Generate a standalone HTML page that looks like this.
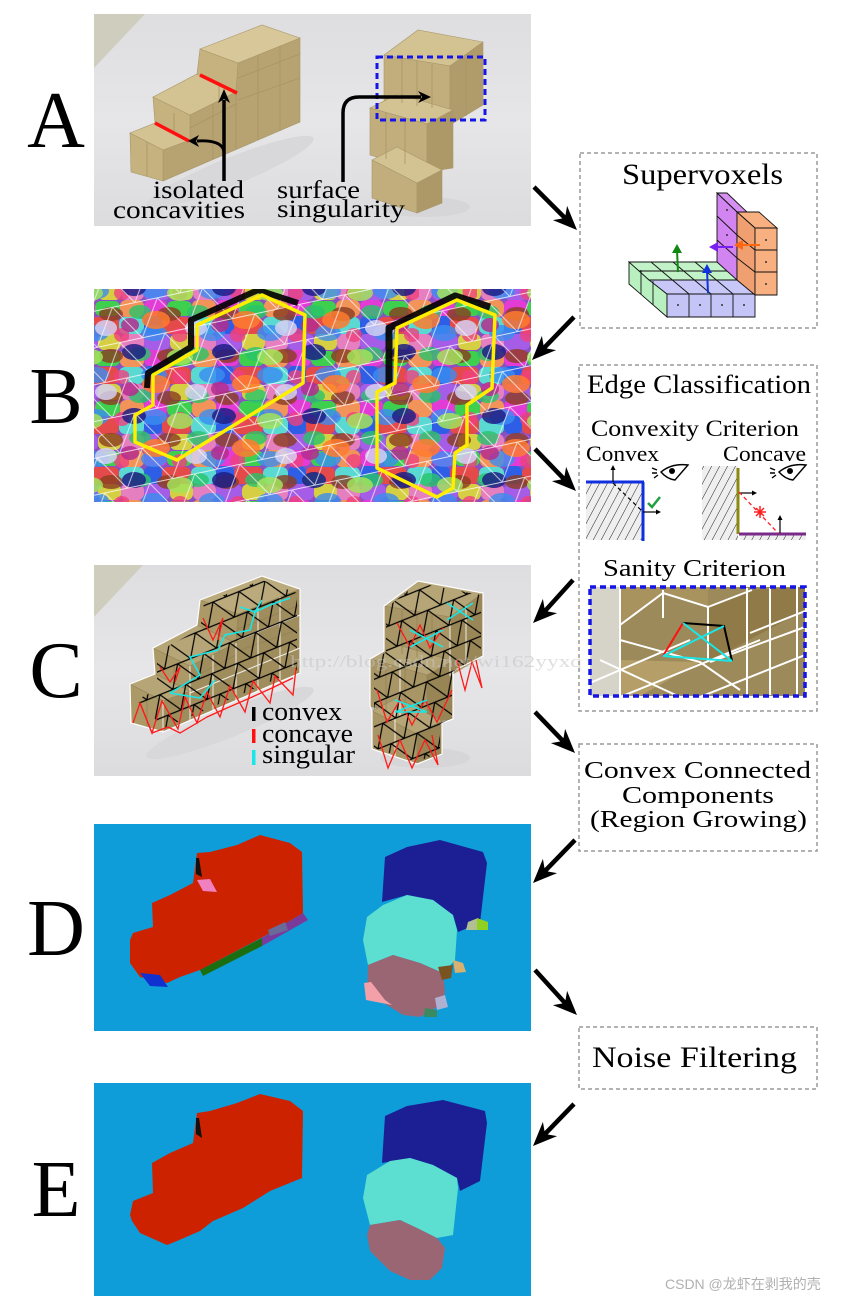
<!DOCTYPE html>
<html><head><meta charset="utf-8"><style>html,body{margin:0;padding:0;background:#fff;}svg{display:block}</style></head>
<body>
<svg width="851" height="1300" viewBox="0 0 851 1300" xmlns="http://www.w3.org/2000/svg" font-family="'Liberation Serif', serif">
<defs>
  <clipPath id="cA"><rect x="94" y="14" width="437" height="212"/></clipPath>
  <clipPath id="cB"><rect x="94" y="289" width="437" height="213"/></clipPath>
  <clipPath id="cC"><rect x="94" y="565" width="437" height="211"/></clipPath>
  <clipPath id="cSan"><rect x="590" y="587" width="215" height="109"/></clipPath>
  <clipPath id="cMeshL"><polygon points="136,700 157,690 157,652 200,629 204,603 262,580 297,593 297,670 164,728"/></clipPath>
  <clipPath id="cMeshR"><polygon points="386,608 418,583 481,595 481,655 452,672 452,718 440,724 440,752 417,762 374,748 374,660 386,652"/></clipPath>
  <pattern id="hatch" width="7" height="7" patternUnits="userSpaceOnUse" patternTransform="rotate(28)">
    <rect width="7" height="7" fill="#efefef"/>
    <line x1="0" y1="0" x2="0" y2="7" stroke="#222" stroke-width="1"/>
  </pattern>
  <pattern id="m1" width="72" height="50" patternUnits="userSpaceOnUse">
    <rect width="72" height="50" fill="#8a4fc0"/>
    <rect x="0" y="0" width="23" height="16" rx="6" fill="#e23bd6"/>
    <rect x="23" y="1" width="25" height="15" rx="6" fill="#3fcf4f"/>
    <rect x="48" y="0" width="24" height="17" rx="6" fill="#f2935a"/>
    <rect x="0" y="16" width="18" height="18" rx="6" fill="#2f5ee6"/>
    <rect x="18" y="17" width="29" height="17" rx="6" fill="#e54a4a"/>
    <rect x="47" y="17" width="25" height="17" rx="6" fill="#5ad9d2"/>
    <rect x="0" y="34" width="26" height="16" rx="6" fill="#a55ce6"/>
    <rect x="26" y="34" width="23" height="16" rx="6" fill="#d6cf44"/>
    <rect x="49" y="34" width="23" height="16" rx="6" fill="#e57fbf"/>
  </pattern>
  <pattern id="m2" x="13" y="9" width="58" height="42" patternUnits="userSpaceOnUse">
    <ellipse cx="11" cy="9" rx="11" ry="7" fill="#27c46a"/>
    <ellipse cx="40" cy="11" rx="12" ry="7" fill="#8a3d20"/>
    <ellipse cx="25" cy="30" rx="13" ry="8" fill="#3a8df0"/>
    <ellipse cx="51" cy="32" rx="8" ry="7" fill="#f0407e"/>
  </pattern>
  <pattern id="m3" x="30" y="20" width="90" height="64" patternUnits="userSpaceOnUse">
    <ellipse cx="14" cy="12" rx="12" ry="8" fill="#1e1e86"/>
    <ellipse cx="60" cy="17" rx="13" ry="8" fill="#a2e35a"/>
    <ellipse cx="36" cy="44" rx="14" ry="9" fill="#ff7b2e"/>
    <ellipse cx="76" cy="52" rx="11" ry="8" fill="#d4d0f2"/>
    <ellipse cx="10" cy="49" rx="9" ry="7" fill="#b52d8e"/>
  </pattern>
  <pattern id="wmesh" width="46" height="36" patternUnits="userSpaceOnUse" patternTransform="rotate(-12)">
    <path d="M0 0H46M0 0L23 36L46 0M0 36H46" stroke="#fff" stroke-width="0.9" fill="none" opacity="0.75"/>
  </pattern>
  <pattern id="bmesh" width="28" height="22" patternUnits="userSpaceOnUse" patternTransform="rotate(-22)">
    <path d="M0 0H28M0 0L14 22L28 0M0 22H28" stroke="#000" stroke-width="1.2" fill="none"/>
  </pattern>
  <linearGradient id="photo" x1="0" y1="0" x2="0" y2="1">
    <stop offset="0" stop-color="#dedee0"/>
    <stop offset="0.5" stop-color="#e6e6e8"/>
    <stop offset="1" stop-color="#dcdcde"/>
  </linearGradient>
  <g id="blocks" stroke="#a8976a" stroke-width="0.6">
    <ellipse cx="230" cy="172" rx="90" ry="14" fill="#d8d8da" stroke="none" transform="rotate(-22 230 172)"/>
    <ellipse cx="425" cy="207" rx="45" ry="10" fill="#d6d6d8" stroke="none"/>
    <polygon fill="#b7a371" points="163,150 190,140 190,115 236,92 238,63 300,38 300,122 163,181"/>
    <polygon fill="#c6b27f" points="130,133 163,150 163,181 131,172"/>
    <polygon fill="#d3c292" points="130,133 155,123 190,140 163,150"/>
    <polygon fill="#c6b27f" points="153,97 190,115 190,140 155,123"/>
    <polygon fill="#d3c292" points="153,97 197,74 236,92 190,115"/>
    <polygon fill="#c6b27f" points="200,49 238,63 236,92 197,74"/>
    <polygon fill="#d8c798" points="200,49 262,25 300,38 238,63"/>
    <polygon fill="#d3c292" points="384,55 418,30 483,42 450,66"/>
    <polygon fill="#c2ae7c" points="384,55 450,66 450,112 384,100"/>
    <polygon fill="#b09c6a" points="450,66 483,42 483,105 450,125"/>
    <polygon fill="#d3c292" points="370,108 398,94 453,110 427,124"/>
    <polygon fill="#c2ae7c" points="370,108 427,124 427,172 370,155"/>
    <polygon fill="#ad9967" points="427,124 453,110 453,168 427,172"/>
    <polygon fill="#d3c292" points="372,160 397,147 442,170 417,183"/>
    <polygon fill="#c2ae7c" points="372,160 417,183 417,213 372,198"/>
    <polygon fill="#ad9967" points="417,183 442,170 442,203 417,213"/>
    <path fill="none" stroke="#a89466" stroke-width="0.8" d="M213,104V159M236,93V149M258,55V140M280,46V131M190,128L236,104M238,78L300,54M238,100L300,78M147,142V176M174,113V132M219,82V102M466,58V116M402,58V103M417,61V106M432,64V108M386,113V159M405,118V164"/>
  </g>
</defs>

<!-- Panel letters -->
<g font-size="80" text-anchor="middle" fill="#000">
  <text x="56" y="147">A</text>
  <text x="56" y="423">B</text>
  <text x="56" y="697">C</text>
  <text x="56" y="955">D</text>
  <text x="56" y="1216">E</text>
</g>

<!-- Panel A -->
<g clip-path="url(#cA)">
  <rect x="94" y="14" width="437" height="212" fill="url(#photo)"/>
  <polygon points="94,14 145,14 94,68" fill="#cfcdbd"/>
  <use href="#blocks"/>
  <line x1="155" y1="123" x2="189" y2="141" stroke="#ff1010" stroke-width="3.5"/>
  <line x1="200" y1="75" x2="237" y2="93" stroke="#ff1010" stroke-width="3.5"/>
  <rect x="377" y="57" width="108" height="63" fill="none" stroke="#1515e6" stroke-width="3" stroke-dasharray="6 4"/>
  <path d="M224,181 L224,100" stroke="#000" stroke-width="3.5" fill="none"/>
  <polygon points="224,89 218,103 224,99 230,103" fill="#000"/>
  <path d="M224,153 C224,143 212,140 197,141" stroke="#000" stroke-width="3" fill="none"/>
  <polygon points="188,141 199,135 196,141 199,147" fill="#000"/>
  <path d="M343,182 L343,113 Q343,97 359,97 L421,97" stroke="#000" stroke-width="3.5" fill="none"/>
  <polygon points="431,97 418,91 422,97 418,103" fill="#000"/>
  <g font-size="25" fill="#000">
    <text x="153" y="198" textLength="91" lengthAdjust="spacingAndGlyphs">isolated</text>
    <text x="113" y="218" textLength="132" lengthAdjust="spacingAndGlyphs">concavities</text>
    <text x="277" y="198" textLength="83" lengthAdjust="spacingAndGlyphs">surface</text>
    <text x="277" y="217" textLength="128" lengthAdjust="spacingAndGlyphs">singularity</text>
  </g>
</g>

<!-- Panel B -->
<g clip-path="url(#cB)">
  <rect x="94" y="289" width="437" height="213" fill="url(#m1)"/>
  <rect x="94" y="289" width="437" height="213" fill="url(#m2)" opacity="0.8"/>
  <rect x="94" y="289" width="437" height="213" fill="url(#m3)" opacity="0.85"/>
  <rect x="94" y="289" width="437" height="213" fill="url(#wmesh)"/>
  <polyline points="147,388 148,373 191,347 191,320 258,290 298,303" fill="none" stroke="#000" stroke-width="6" stroke-linejoin="round" opacity="0.9"/>
  <polyline points="389,386 389,328 455,296 490,307" fill="none" stroke="#000" stroke-width="7" stroke-linejoin="round" opacity="0.9"/>
  <polygon points="135,415 135,442 177,460 303,383 305,315 262,295 197,325 197,350 153,375 153,405" fill="none" stroke="#ffee00" stroke-width="3.5" stroke-linejoin="round"/>
  <polygon points="397,328 457,300 495,315 492,388 467,405 467,445 455,453 453,488 437,497 377,468 377,392 395,383" fill="none" stroke="#ffee00" stroke-width="3.5" stroke-linejoin="round"/>
</g>

<!-- Panel C -->
<g clip-path="url(#cC)">
  <rect x="94" y="565" width="437" height="211" fill="url(#photo)"/>
  <polygon points="94,565 143,565 94,617" fill="#cfcdbd"/>
  <use href="#blocks" y="551"/>
  <g fill="rgba(70,55,15,0.2)" stroke="#fff" stroke-width="1.2">
    <polygon points="130,684 155,674 153,648 197,625 200,600 262,576 300,589 300,673 163,732 131,723"/>
    <polygon points="384,606 418,581 483,593 483,656 453,671 453,719 442,723 442,754 417,764 372,749 372,711 370,706 370,659 384,651"/>
  </g>
  <g stroke="#fff" stroke-width="1" opacity="0.85">
    <line x1="163" y1="701" x2="163" y2="732"/><line x1="190" y1="666" x2="190" y2="721"/>
    <line x1="213" y1="655" x2="213" y2="710"/><line x1="236" y1="643" x2="236" y2="700"/>
    <line x1="258" y1="606" x2="258" y2="691"/><line x1="280" y1="597" x2="280" y2="681"/>
    <line x1="450" y1="617" x2="450" y2="676"/><line x1="466" y1="606" x2="466" y2="665"/>
    <line x1="400" y1="660" x2="400" y2="716"/><line x1="395" y1="710" x2="395" y2="756"/>
    <line x1="190" y1="693" x2="300" y2="648"/><line x1="238" y1="640" x2="300" y2="615"/>
  </g>
  <rect x="94" y="565" width="437" height="211" fill="url(#bmesh)" clip-path="url(#cMeshL)"/>
  <rect x="94" y="565" width="437" height="211" fill="url(#bmesh)" clip-path="url(#cMeshR)"/>
  <g fill="none" stroke="#ff1a1a" stroke-width="1.3">
    <polyline points="133,723 140,703 152,733 162,701 178,729 185,697 197,723 207,692 220,717 230,686 245,712 253,681 270,703 275,676 293,695 296,668"/>
    <polyline points="140,703 152,733 168,727 180,733 197,723 207,717 227,708 250,698 272,688 293,678"/>
    <polyline points="203,618 213,640 223,618 218,640"/>
    <polyline points="160,667 170,682 180,667 175,682"/>
    <polyline points="397,623 410,647 420,625 430,648 443,628"/>
    <polyline points="457,660 465,690 472,662 482,688 476,660"/>
    <polyline points="377,690 387,722 400,700 412,725 425,700 437,722 452,690"/>
    <polyline points="378,735 388,768 400,740 412,768 425,740 438,765 432,735"/>
  </g>
  <g fill="none" stroke="#19e6e6" stroke-width="1.6">
    <polyline points="170,693 200,675 190,657 218,650 225,635 250,630 255,612 270,605 290,598"/>
    <polyline points="170,693 200,698 215,680"/>
    <polyline points="240,607 255,612 262,600"/>
    <path d="M447,603 L473,620 M447,620 L473,603 M410,630 L443,647 M410,647 L443,630 M395,700 L427,712 M395,712 L427,700 M395,712 L427,712"/>
  </g>
  <rect x="252" y="707" width="3.5" height="14" fill="#000"/>
  <rect x="252" y="729" width="3.5" height="14" fill="#ff1010"/>
  <rect x="252" y="750" width="3.5" height="15" fill="#19e6e6"/>
  <g font-size="26" fill="#000">
    <text x="262" y="720" textLength="80" lengthAdjust="spacingAndGlyphs">convex</text>
    <text x="262" y="742" textLength="91" lengthAdjust="spacingAndGlyphs">concave</text>
    <text x="262" y="763" textLength="93" lengthAdjust="spacingAndGlyphs">singular</text>
  </g>
</g>
<text x="290" y="667" font-size="17" fill="#c4c4c4" opacity="0.55" textLength="292" lengthAdjust="spacingAndGlyphs">http://blog.csdn.net/wi162yyxq</text>

<!-- Panel D -->
<rect x="94" y="824" width="437" height="207" fill="#0e9dd9"/>
<polygon fill="#cc2200" points="130,940 133,933 153,927 152,903 170,895 193,883 197,853 210,852 237,845 260,835 290,843 302,852 303,913 263,937 200,970 180,977 167,983 140,977 130,963"/>
<polygon fill="#1a6e10" points="200,970 262,938 262,946 203,976"/>
<polygon fill="#7a3a9a" points="262,938 303,913 308,920 262,946"/>
<polygon fill="#6a6a9a" points="268,930 285,922 288,930 270,936"/>
<polygon fill="#1030d0" points="140,973 160,975 168,987 150,986"/>
<polygon fill="#f080c0" points="197,880 210,879 217,892 203,891"/>
<polygon fill="#111" points="196,858 199,858 202,877 196,874"/>
<polygon fill="#1c1f94" points="385,857 407,847 440,840 483,852 487,863 480,923 458,932 453,915 433,900 407,895 382,902"/>
<polygon fill="#5cdfd0" points="367,917 383,905 407,895 433,900 453,915 457,930 455,960 443,973 420,963 393,955 368,965 363,940"/>
<polygon fill="#9a6674" points="368,965 393,955 420,963 443,973 445,993 437,1007 420,1017 403,1015 387,1005 367,993"/>
<polygon fill="#f4a0a8" points="364,983 371,982 385,1000 392,1005 366,1000"/>
<polygon fill="#7a5420" points="438,967 453,965 451,978 442,980"/>
<polygon fill="#d8b070" points="453,960 463,963 466,972 455,973"/>
<polygon fill="#b0c090" points="468,922 478,918 478,930 466,930"/>
<polygon fill="#90d020" points="477,918 488,922 488,930 477,930"/>
<polygon fill="#b0b0d0" points="435,998 445,995 448,1007 437,1010"/>
<polygon fill="#3a8a60" points="425,1008 437,1010 437,1017 424,1017"/>

<!-- Panel E -->
<rect x="94" y="1083" width="437" height="213" fill="#0e9dd9"/>
<polygon fill="#cc2200" points="130,1215 133,1201 153,1193 152,1163 170,1153 193,1143 197,1113 210,1111 237,1103 260,1094 290,1101 303,1111 302,1178 270,1191 243,1208 213,1221 200,1231 177,1241 167,1245 140,1233 132,1221"/>
<polygon fill="#111" points="196,1118 199,1118 202,1138 196,1134"/>
<polygon fill="#1c1f94" points="385,1116 407,1106 443,1100 485,1111 487,1123 480,1181 460,1191 457,1178 433,1165 410,1158 382,1163"/>
<polygon fill="#5cdfd0" points="367,1175 390,1161 410,1158 433,1165 457,1178 458,1188 453,1235 437,1238 417,1228 400,1220 370,1225 363,1198"/>
<polygon fill="#9a6674" points="370,1225 400,1220 417,1228 437,1238 445,1248 442,1268 430,1280 410,1280 390,1271 370,1251 367,1235"/>

<!-- Boxes -->
<g fill="none" stroke="#9a9a9a" stroke-width="1.5" stroke-dasharray="4 3">
  <rect x="580" y="153" width="237" height="175"/>
  <rect x="579" y="365" width="238" height="346"/>
  <rect x="579" y="744" width="238" height="107"/>
  <rect x="579" y="1027" width="238" height="62"/>
</g>

<!-- Supervoxels box -->
<text x="702.5" y="184" font-size="30" text-anchor="middle" textLength="161" lengthAdjust="spacingAndGlyphs">Supervoxels</text>
<g stroke="#111" stroke-width="0.9">
  <polygon fill="#d690f2" points="717,193 727,193 747,212 737,212"/>
  <polygon fill="#d284f0" points="717,193 737,212 737,285 717,268"/>
  <polygon fill="#b8f0c0" points="629,262 667,294 667,317 629,284"/>
  <polygon fill="#c2f2c8" points="629,262 717,262 737,280 649,280"/>
  <polygon fill="#c8c8f8" points="649,280 737,280 755,294 667,294"/>
  <polygon fill="#c4c4f6" points="667,294 755,294 755,317 667,317"/>
  <polygon fill="#f8b080" points="737,212 759,212 777,228 755,228"/>
  <polygon fill="#f0a070" points="737,212 755,228 755,295 737,280"/>
  <polygon fill="#f8b080" points="755,228 777,228 777,295 755,295"/>
  <path fill="none" d="M689,294V317M711,294V317M733,294V317M755,250H777M755,272H777M737,235L755,250M737,258L755,272M717,216L737,235M717,240L737,258M651,262L689,294M673,262L711,294M695,262L733,294M639,271H727M641,270L641,294M653,281L653,305"/>
</g>
<g fill="#333">
  <circle cx="678" cy="305" r="1"/><circle cx="700" cy="305" r="1"/><circle cx="722" cy="305" r="1"/><circle cx="744" cy="305" r="1"/>
  <circle cx="766" cy="240" r="1"/><circle cx="766" cy="262" r="1"/><circle cx="766" cy="284" r="1"/>
  <circle cx="727" cy="210" r="1"/><circle cx="727" cy="235" r="1"/>
</g>
<g stroke-width="2" fill="none">
  <line x1="678" y1="272" x2="677" y2="250" stroke="#118811"/>
  <line x1="708" y1="293" x2="707" y2="270" stroke="#1133dd"/>
  <line x1="733" y1="247" x2="715" y2="247" stroke="#7722ee"/>
  <line x1="760" y1="245" x2="740" y2="245" stroke="#ff6611"/>
</g>
<polygon points="677,244 672,253 682,253" fill="#118811"/>
<polygon points="707,264 702,273 712,273" fill="#1133dd"/>
<polygon points="709,247 718,242 718,252" fill="#7722ee"/>
<polygon points="734,245 743,240 743,250" fill="#ff6611"/>

<!-- Edge classification -->
<text x="699" y="393" font-size="26" text-anchor="middle" textLength="224" lengthAdjust="spacingAndGlyphs">Edge Classification</text>
<text x="695" y="436" font-size="23" text-anchor="middle" textLength="208" lengthAdjust="spacingAndGlyphs">Convexity Criterion</text>
<text x="586" y="461" font-size="22" textLength="73" lengthAdjust="spacingAndGlyphs">Convex</text>
<text x="723" y="461" font-size="22" textLength="83" lengthAdjust="spacingAndGlyphs">Concave</text>
<rect x="586" y="483" width="56" height="57" fill="url(#hatch)"/>
<line x1="586" y1="482" x2="644" y2="482" stroke="#1030e0" stroke-width="3"/>
<line x1="643" y1="482" x2="643" y2="541" stroke="#1030e0" stroke-width="3"/>
<line x1="613" y1="482" x2="613" y2="469" stroke="#000" stroke-width="1.2"/>
<polygon points="613,465 610.5,470 615.5,470" fill="#000"/>
<line x1="643" y1="512" x2="657" y2="512" stroke="#000" stroke-width="1.2"/>
<polygon points="661,512 656,509.5 656,514.5" fill="#000"/>
<line x1="613" y1="483" x2="641" y2="510" stroke="#000" stroke-width="1.2" stroke-dasharray="4 3"/>
<polyline points="648,503 652,507 660,497" fill="none" stroke="#20a040" stroke-width="2.5"/>
<rect x="702" y="466" width="36" height="74" fill="url(#hatch)"/>
<rect x="740" y="535" width="66" height="5" fill="url(#hatch)"/>
<line x1="738" y1="468" x2="738" y2="534" stroke="#8a8a10" stroke-width="3"/>
<line x1="739" y1="534" x2="806" y2="534" stroke="#7a2a8a" stroke-width="3"/>
<line x1="739" y1="493" x2="753" y2="493" stroke="#000" stroke-width="1.2"/>
<polygon points="757,493 752,490.5 752,495.5" fill="#000"/>
<line x1="780" y1="533" x2="780" y2="519" stroke="#000" stroke-width="1.2"/>
<polygon points="780,515 777.5,520 782.5,520" fill="#000"/>
<line x1="739" y1="492" x2="778" y2="533" stroke="#ff2020" stroke-width="1.3" stroke-dasharray="4 3"/>
<path d="M754,512H766M760,506V518M756,508L764,516M764,508L756,516" stroke="#ff2020" stroke-width="1.5"/>
<g fill="none" stroke="#000" stroke-width="1.4">
  <path d="M661,472 Q672,463 688,465 L675,480 Q667,479 661,472Z"/>
  <path d="M652,468L657,470M652,473L657,473M654,478L658,475"/>
  <path d="M779,472 Q790,463 806,465 L793,480 Q785,479 779,472Z"/>
  <path d="M770,468L775,470M770,473L775,473M772,478L776,475"/>
</g>
<circle cx="672" cy="471" r="3" fill="#000"/>
<circle cx="790" cy="471" r="3" fill="#000"/>
<text x="694.5" y="576" font-size="24" text-anchor="middle" textLength="183" lengthAdjust="spacingAndGlyphs">Sanity Criterion</text>
<g clip-path="url(#cSan)">
  <rect x="590" y="587" width="215" height="109" fill="#9d8a5a"/>
  <rect x="590" y="587" width="30" height="109" fill="#d6d3c8"/>
  <polygon points="620,587 708,587 708,607 663,593 620,625" fill="#a8925e"/>
  <polygon points="708,607 752,590 805,587 805,610 708,662" fill="#8f7a48"/>
  <polygon points="620,660 700,662 640,696 620,696" fill="#b59e68"/>
  <g stroke="#fff" stroke-width="2" fill="none">
    <path d="M620,587V696M663,590V618M708,607V662M747,588V697M770,588V695M797,587V695"/>
    <path d="M620,625L663,593L708,607L752,590"/>
    <path d="M590,683L690,640M620,697L760,640M700,697L805,655M750,633L805,611M710,662L805,627"/>
    <path d="M620,640L700,662L740,690M600,660L680,697"/>
  </g>
  <path d="M683,623L724,626L732,661" stroke="#000" stroke-width="2" fill="none"/>
  <path d="M683,623L663,656" stroke="#ff1010" stroke-width="2" fill="none"/>
  <path d="M663,656L732,661M683,623L732,661M724,626L663,656" stroke="#19e6e6" stroke-width="2" fill="none"/>
</g>
<rect x="590" y="587" width="215" height="109" fill="none" stroke="#1515e6" stroke-width="3.5" stroke-dasharray="6 4"/>

<g font-size="24" text-anchor="middle">
  <text x="697.5" y="778" textLength="227" lengthAdjust="spacingAndGlyphs">Convex Connected</text>
  <text x="698" y="803" textLength="152" lengthAdjust="spacingAndGlyphs">Components</text>
  <text x="698.5" y="827" textLength="217" lengthAdjust="spacingAndGlyphs">(Region Growing)</text>
</g>
<text x="694.5" y="1067" font-size="30" text-anchor="middle" textLength="205" lengthAdjust="spacingAndGlyphs">Noise Filtering</text>

<!-- Arrows -->
<g stroke="#000" stroke-width="4.5" fill="none">
  <line x1="534" y1="187" x2="565" y2="218"/>
  <line x1="574" y1="317" x2="544" y2="348"/>
  <line x1="535" y1="449" x2="564" y2="479"/>
  <line x1="573" y1="580" x2="545" y2="611"/>
  <line x1="535" y1="712" x2="563" y2="741"/>
  <line x1="575" y1="840" x2="545" y2="871"/>
  <line x1="535" y1="970" x2="565" y2="1003"/>
  <line x1="574" y1="1104" x2="545" y2="1134"/>
</g>
<g fill="#000">
  <polygon points="577,230 552.9,220.1 565,218 567.1,205.9"/>
  <polygon points="532,360 541.9,335.9 544,348 556.1,350.1"/>
  <polygon points="576,491 551.9,481.1 564,479 566.1,466.9"/>
  <polygon points="533,623 542.9,598.9 545,611 557.1,613.1"/>
  <polygon points="575,753 550.9,743.1 563,741 565.1,728.9"/>
  <polygon points="533,883 542.9,858.9 545,871 557.1,873.1"/>
  <polygon points="577,1015 552.9,1005.1 565,1003 567.1,990.9"/>
  <polygon points="533,1146 542.9,1121.9 545,1134 557.1,1136.1"/>
</g>

<text x="665" y="1289" font-size="14" fill="#b0b0b0" font-family="'Liberation Sans', 'Noto Sans CJK SC', sans-serif">CSDN @龙虾在剥我的壳</text>
</svg>
</body></html>
